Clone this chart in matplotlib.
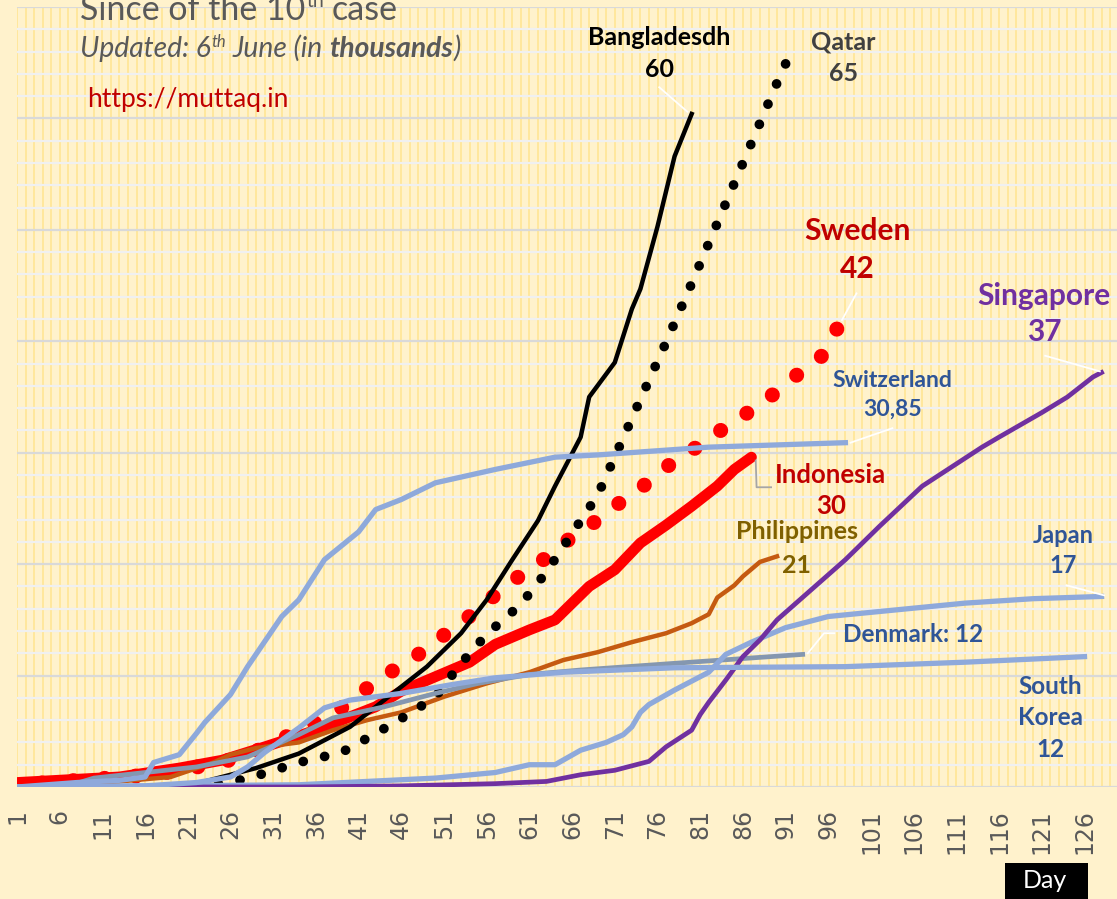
import numpy as np
import matplotlib
matplotlib.use("Agg")
import matplotlib.pyplot as plt
from matplotlib.patches import Rectangle

#==================================================================
# data (thousands of cases, by day since the 10th case)
bd_days = [19, 22, 26, 29, 34, 40, 45, 49, 53, 56, 59, 62, 64, 67, 68, 71, 73, 74, 76, 78, 80]
bd_vals = [0, 0.3, 1.1, 1.7, 3.0, 5.4, 8.4, 10.8, 13.8, 16.8, 20.4, 23.9, 27.0, 31.4, 35.0, 38.1, 42.9, 44.7, 50.3, 56.6, 60.4]

qa_days = [20, 23, 26, 29, 34, 39, 43, 47, 50, 53, 56, 60, 63, 69, 74, 77, 80, 83, 86, 88, 90, 91]
qa_vals = [0, 0.1, 0.4, 1.0, 2.2, 3.1, 4.8, 6.6, 8.1, 11.1, 13.7, 16.4, 19.3, 26.2, 34.8, 39.9, 45.2, 50.6, 56.0, 59.6, 63.2, 64.9]

se_days = [1, 17, 25, 30, 34, 38, 41, 44, 47, 50, 53, 56, 59, 62, 65, 68, 71, 74, 77, 80, 83, 86, 89, 92, 95, 97]
se_vals = [0.2, 1.1, 2.2, 3.5, 5.1, 6.5, 8.3, 10.0, 11.3, 13.1, 14.7, 16.6, 18.5, 20.0, 21.9, 23.4, 25.2, 26.8, 28.7, 30.2, 31.8, 33.3, 34.9, 36.8, 38.4, 41.1]

id_days = [1, 13, 20, 25, 30, 36, 43, 46, 50, 54, 57, 61, 64, 68, 71, 74, 77, 80, 83, 85, 87]
id_vals = [0.4, 0.9, 1.7, 2.4, 3.6, 5.1, 7.2, 8.6, 9.9, 11.2, 12.8, 14.1, 15.0, 18.0, 19.5, 21.9, 23.5, 25.2, 27.0, 28.5, 29.6]

ph_days = [1, 13, 19, 24, 26, 29, 34, 38, 42, 46, 51, 56, 61, 65, 69, 73, 77, 80, 82, 83, 85, 86, 88, 90]
ph_vals = [0, 0.5, 0.9, 2.2, 2.9, 3.5, 4.0, 5.1, 6.0, 6.7, 8.1, 9.3, 10.3, 11.4, 12.1, 13.0, 13.8, 14.7, 15.5, 17.0, 18.1, 18.9, 20.2, 20.7]

sg_days = [1, 34, 46, 57, 63, 67, 71, 75, 77, 80, 81, 82, 84, 86, 88, 90, 94, 98, 102, 107, 109, 114, 116, 121, 124, 127, 128]
sg_vals = [0, 0, 0.1, 0.3, 0.5, 1.1, 1.5, 2.3, 3.6, 5.1, 6.5, 7.6, 9.6, 11.7, 13.2, 15.0, 17.7, 20.4, 23.4, 27.0, 28.0, 30.5, 31.4, 33.6, 35.0, 36.8, 37.2]

ch_days = [1, 8, 13, 16, 17, 20, 22, 23, 26, 28, 32, 34, 37, 41, 43, 46, 50, 57, 64, 69, 82, 98]
ch_vals = [0, 0.4, 0.6, 0.9, 2.2, 2.9, 4.8, 5.8, 8.3, 10.8, 15.3, 16.8, 20.4, 22.9, 24.9, 25.8, 27.3, 28.5, 29.6, 29.8, 30.5, 30.9]

jp_days = [1, 34, 50, 57, 61, 64, 67, 70, 72, 73, 74, 75, 78, 82, 84, 87, 91, 96, 104, 112, 120, 128]
jp_vals = [0, 0.2, 0.8, 1.3, 2.0, 2.0, 3.3, 4.0, 4.7, 5.4, 6.7, 7.4, 8.7, 10.3, 11.9, 13.0, 14.3, 15.3, 15.9, 16.5, 16.9, 17.1]

dk_days = [1, 7, 10, 16, 22, 28, 34, 38, 44, 50, 55, 61, 67, 78, 93]
dk_vals = [0, 0.1, 0.8, 1.3, 1.8, 2.7, 4.7, 6.2, 7.2, 8.4, 9.3, 10.1, 10.5, 11.1, 11.9]

kr_days = [1, 16, 22, 26, 28, 30, 34, 37, 40, 46, 52, 57, 65, 78, 98, 112, 126]
kr_vals = [0, 0.1, 0.4, 0.9, 1.8, 3.1, 5.3, 7.1, 7.8, 8.4, 9.2, 9.8, 10.3, 10.7, 10.8, 11.2, 11.7]

tick_days = list(range(1, 127, 5))

#==================================================================
W, H = 1117, 899
BG = "#FFF2CC"
LBLUE = "#8EA9DB"
TBLUE = "#2F5597"

def draw_pieces(fig, x_px, y_px, pieces, color):
    # place text pieces one after another, y_px is baseline from top
    renderer = fig.canvas.get_renderer()
    x = x_px
    for txt, size, style, weight, dy, gap in pieces:
        x += gap
        t = fig.text(x / W, (H - y_px + dy) / H, txt, fontsize=size, style=style,
                     weight=weight, family="Lato", color=color, ha="left", va="baseline")
        x += t.get_window_extent(renderer).width

def real_main():
    fig = plt.figure(figsize=(W / 100, H / 100), dpi=100, facecolor=BG)
    ax = fig.add_axes([17 / W, (H - 787) / H, 1100 / W, 780 / H])
    ax.set_facecolor(BG)
    ax.set_xlim(1, 1 + 1100 / 8.54)
    ax.set_ylim(0, 70)
    for s in ax.spines.values():
        s.set_visible(False)

    # grid
    ax.vlines(np.arange(1, 130), 0, 70, color="#FFE699", lw=1.3, zorder=0)
    for v in range(0, 71, 2):
        major = v % 10 == 0
        ax.axhline(v, color="#D9D9D9" if major else "#F0F0F0", lw=1.6, zorder=0.5)

    # series (dotted ones drawn from their last day so a dot sits on the end)
    ax.plot(se_days[::-1], se_vals[::-1], color="#FF0000", lw=10.8,
            linestyle=(0, (0.01, 2.08)), dash_capstyle="round", zorder=2)
    ax.plot(id_days, id_vals, color="#FF0000", lw=7.8, solid_capstyle="round", zorder=3)
    ax.plot(ph_days, ph_vals, color="#C55A11", lw=3.2, zorder=4)
    ax.plot(bd_days, bd_vals, color="#000000", lw=3.2, zorder=5)
    ax.plot(qa_days[::-1], qa_vals[::-1], color="#000000", lw=7.0,
            linestyle=(0, (0.01, 2.25)), dash_capstyle="round", zorder=5)
    ax.plot(dk_days, dk_vals, color="#8497B0", lw=3.4, zorder=6)
    ax.plot(jp_days, jp_vals, color=LBLUE, lw=3.8, zorder=6.5)
    ax.plot(sg_days, sg_vals, color="#7030A0", lw=3.4, zorder=7)
    ax.plot(kr_days, kr_vals, color=LBLUE, lw=3.8, zorder=8)
    ax.plot(ch_days, ch_vals, color=LBLUE, lw=3.8, zorder=8)

    # leader lines
    wl = dict(color="white", lw=1.3, zorder=9)
    ax.plot([76.2, 79.5], [62.8, 60.6], **wl)
    ax.plot([99.3, 97.6], [44.3, 41.9], **wl)
    ax.plot([121.4, 127.8], [38.7, 37.3], **wl)
    ax.plot([103.5, 98.6], [32.2, 30.9], **wl)
    ax.plot([123.9, 128.3], [18.1, 17.2], **wl)
    ax.plot([96.7, 95.5, 93.6], [13.8, 13.8, 12.0], **wl)
    ax.plot([87.5, 87.6, 89.3], [29.3, 26.9, 26.9], color="#A6A6A6", lw=1.3, zorder=9)

    # labels
    lab = dict(family="Lato", weight="bold", ha="center", va="center", zorder=10)
    ax.text(76.2, 67.3, "Bangladesdh", fontsize=18, color="black", **lab)
    ax.text(76.2, 64.4, "60", fontsize=18, color="black", **lab)
    ax.text(97.8, 66.9, "Qatar", fontsize=18, color="#404040", **lab)
    ax.text(97.8, 64.0, "65", fontsize=18, color="#404040", **lab)
    ax.text(99.4, 49.9, "Sweden", fontsize=21.5, color="#C00000", **lab)
    ax.text(99.4, 46.5, "42", fontsize=21.5, color="#C00000", **lab)
    ax.text(121.3, 44.1, "Singapore", fontsize=21.5, color="#7030A0", **lab)
    ax.text(121.3, 40.8, "37", fontsize=21.5, color="#7030A0", **lab)
    ax.text(103.5, 36.5, "Switzerland", fontsize=16.5, color=TBLUE, **lab)
    ax.text(103.5, 33.9, "30,85", fontsize=16.5, color=TBLUE, **lab)
    ax.text(96.3, 28.0, "Indonesia", fontsize=18.5, color="#C00000", **lab)
    ax.text(96.3, 25.2, "30", fontsize=18.5, color="#C00000", **lab)
    ax.text(92.3, 22.9, "Philippines", fontsize=18, color="#7F6000", **lab)
    ax.text(92.3, 19.9, "21", fontsize=18, color="#7F6000", **lab)
    ax.text(123.5, 22.6, "Japan", fontsize=17, color=TBLUE, **lab)
    ax.text(123.5, 19.9, "17", fontsize=17, color=TBLUE, **lab)
    ax.text(105.9, 13.7, "Denmark: 12", fontsize=17.5, color=TBLUE, **lab)
    ax.text(122.0, 6.2, "South\nKorea\n12", fontsize=17.5, color=TBLUE,
            linespacing=1.45, **lab)

    # x axis
    ax.set_yticks([])
    ax.set_xticks(tick_days)
    ax.set_xticklabels([str(d) for d in tick_days], rotation=90, fontsize=17,
                       color="#595959", family="DejaVu Sans")
    ax.tick_params(axis="x", length=0, pad=16)

    # titles (the top of the main title is cut off, as in the source)
    draw_pieces(fig, 80, 20, [("Since of the 10", 24.5, "normal", "normal", 0, 0),
                              ("th", 14, "normal", "normal", 13, 1),
                              ("case", 24.5, "normal", "normal", 0, 8)], "#595959")
    draw_pieces(fig, 80, 57, [("Updated: 6", 20.3, "italic", "normal", 0, 0),
                              ("th", 12, "italic", "normal", 10, 1),
                              ("June (in", 20.3, "italic", "normal", 0, 6),
                              ("thousands", 20.3, "italic", "bold", 0, 6),
                              (")", 20.3, "italic", "normal", 0, 1)], "#595959")
    fig.text(87 / W, (H - 107) / H, "https://muttaq.in", fontsize=19, family="Lato",
             color="#C00000", ha="left", va="baseline")

    # "Day" box
    fig.patches.append(Rectangle((1005 / W, 0), 83 / W, 36 / H, transform=fig.transFigure,
                                 facecolor="black", edgecolor="none"))
    fig.text(1045 / W, (H - 881) / H, "Day", fontsize=18, family="Lato", color="white",
             ha="center", va="center")

    fig.savefig("out.png", dpi=100, facecolor=BG)

#==================================================================
if __name__ == "__main__":
    real_main()
